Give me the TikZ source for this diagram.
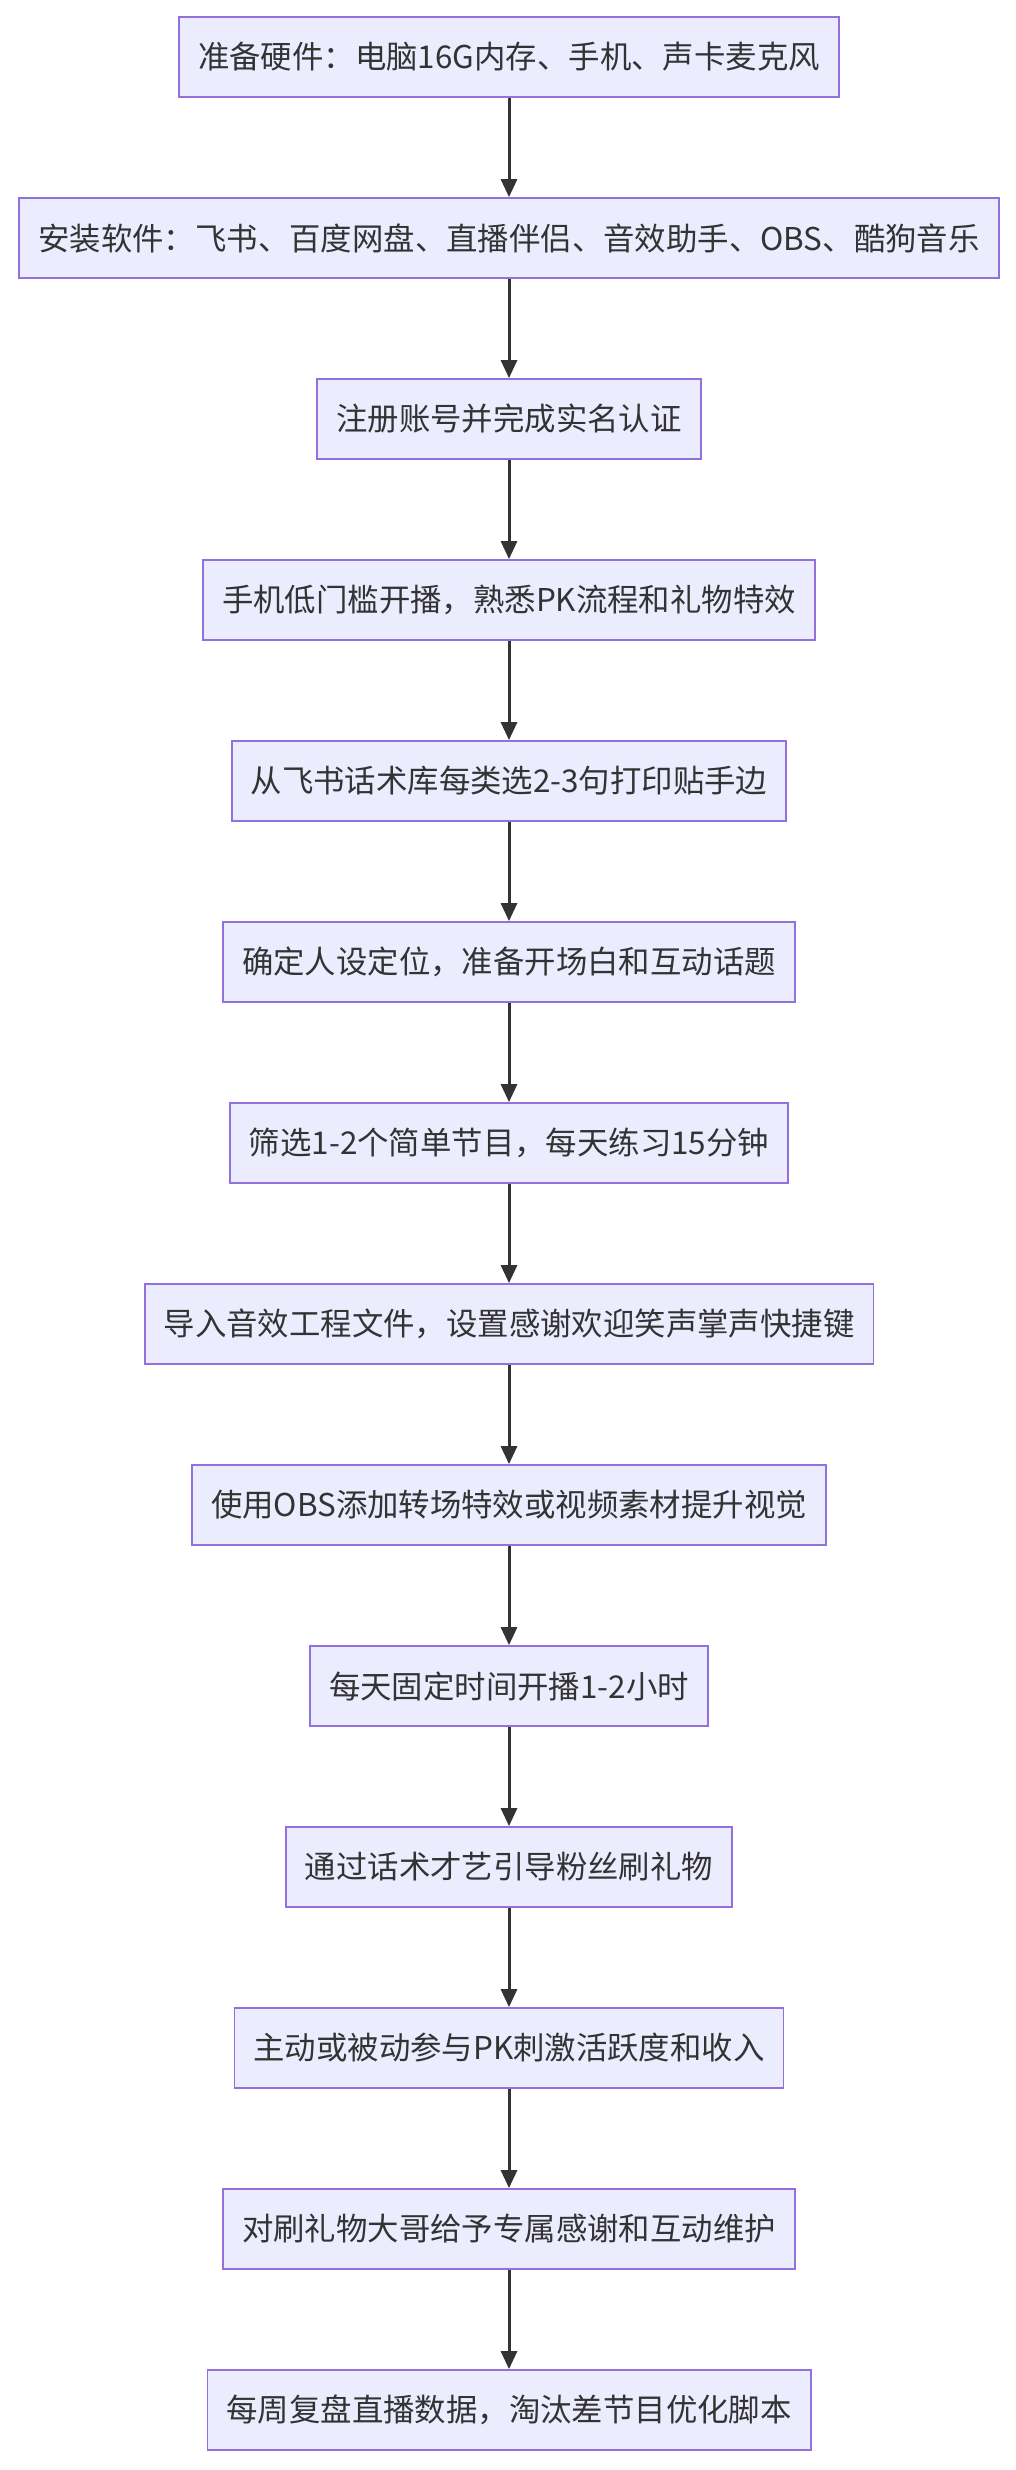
\documentclass[tikz,border=0pt]{standalone}
\usepackage{fontspec}
\setmainfont{Noto Sans CJK SC}
\usetikzlibrary{arrows.meta}
\definecolor{boxfill}{HTML}{ECECFF}
\definecolor{boxline}{HTML}{9370DB}
\definecolor{ink}{HTML}{333333}
\tikzset{
 stepbox/.style={draw=boxline,fill=boxfill,line width=1.8pt,minimum height=80pt,inner xsep=19pt,text=ink,font=\fontsize{31.4}{36}\selectfont},
 conn/.style={draw=ink,line width=3pt,-{Triangle[length=18pt,width=16pt]}}
}
\begin{document}
\begin{tikzpicture}[x=1pt,y=-1pt]
\useasboundingbox (0,0) rectangle (1016,2470);
\foreach \i/\t in {1/准备硬件：电脑16G内存、手机、声卡麦克风,
 2/安装软件：飞书、百度网盘、直播伴侣、音效助手、OBS、酷狗音乐,
 3/注册账号并完成实名认证,
 4/手机低门槛开播，熟悉PK流程和礼物特效,
 5/从飞书话术库每类选2-3句打印贴手边,
 6/确定人设定位，准备开场白和互动话题,
 7/筛选1-2个简单节目，每天练习15分钟,
 8/导入音效工程文件，设置感谢欢迎笑声掌声快捷键,
 9/使用OBS添加转场特效或视频素材提升视觉,
 10/每天固定时间开播1-2小时,
 11/通过话术才艺引导粉丝刷礼物,
 12/主动或被动参与PK刺激活跃度和收入,
 13/对刷礼物大哥给予专属感谢和互动维护,
 14/每周复盘直播数据，淘汰差节目优化脚本}
 {\node[stepbox] (n\i) at (509,{57+181*(\i-1)}) {\t};}
\foreach \i [evaluate=\i as \j using int(\i+1)] in {1,...,13}
 {\draw[conn] (n\i) -- (n\j);}
\end{tikzpicture}
\end{document}
